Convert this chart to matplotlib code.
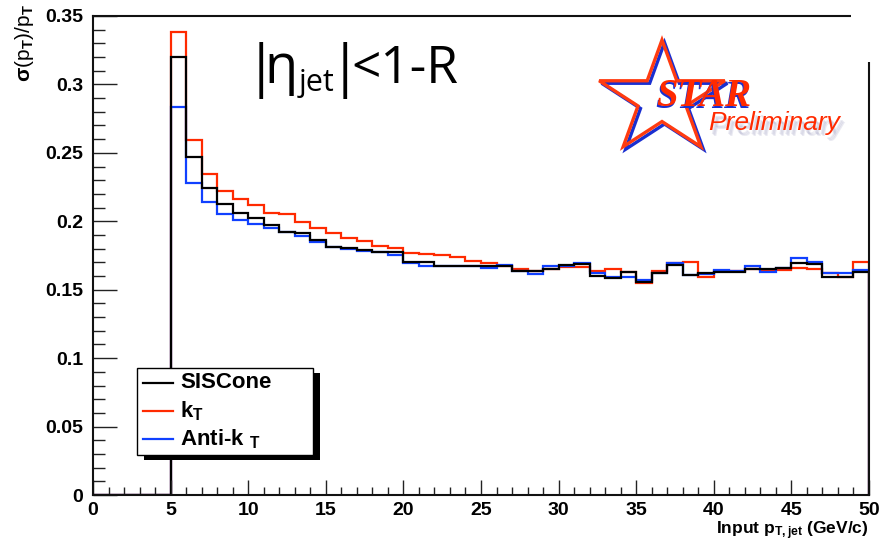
import matplotlib
matplotlib.use("Agg")
import matplotlib.pyplot as plt
import numpy as np
from matplotlib.patches import Polygon, Rectangle
from matplotlib.ticker import MultipleLocator, FuncFormatter


# 1 GeV/c bins from 0 to 50, first five bins are empty
PT_EDGES = list(range(0, 51))
SISCONE = [0, 0, 0, 0, 0,
           0.3203, 0.2472, 0.2241, 0.2126, 0.2058, 0.2022, 0.1973, 0.1924, 0.1912, 0.1863,
           0.1815, 0.1803, 0.1790, 0.1778, 0.1778, 0.1705, 0.1700, 0.1676, 0.1675, 0.1675,
           0.1670, 0.1675, 0.1639, 0.1639, 0.1651, 0.1681, 0.1686, 0.1602, 0.1583, 0.1627,
           0.1559, 0.1620, 0.1681, 0.1610, 0.1620, 0.1627, 0.1630, 0.1651, 0.1651, 0.1661,
           0.1693, 0.1688, 0.1591, 0.1595, 0.1627]
KT = [0, 0, 0, 0, 0,
      0.3385, 0.2594, 0.2345, 0.2223, 0.2163, 0.2119, 0.2063, 0.2053, 0.1997, 0.1949,
      0.1912, 0.1875, 0.1856, 0.1819, 0.1803, 0.1766, 0.1759, 0.1754, 0.1737, 0.1712,
      0.1693, 0.1673, 0.1649, 0.1639, 0.1651, 0.1664, 0.1664, 0.1639, 0.1649, 0.1627,
      0.1551, 0.1639, 0.1697, 0.1700, 0.1595, 0.1639, 0.1639, 0.1651, 0.1644, 0.1644,
      0.1656, 0.1651, 0.1622, 0.1595, 0.1700]
ANTI_KT = [0, 0, 0, 0, 0,
           0.2837, 0.2282, 0.2143, 0.2053, 0.2009, 0.1980, 0.1949, 0.1924, 0.1895, 0.1845,
           0.1815, 0.1800, 0.1780, 0.1775, 0.1754, 0.1693, 0.1676, 0.1676, 0.1670, 0.1670,
           0.1656, 0.1680, 0.1639, 0.1617, 0.1670, 0.1673, 0.1693, 0.1624, 0.1591, 0.1591,
           0.1570, 0.1620, 0.1697, 0.1610, 0.1615, 0.1644, 0.1639, 0.1670, 0.1627, 0.1656,
           0.1729, 0.1700, 0.1620, 0.1620, 0.1644]

SERIES = (
    ("SISCone", SISCONE, "#000000"),
    ("k$_{\\mathbf{T}}$", KT, "#ff2a00"),
    ("Anti-k $_{\\mathbf{T}}$", ANTI_KT, "#1040ff"),
)
DRAW_ORDER = (1, 2, 0)

W, H = 881, 546

plt.rcParams["font.family"] = ["Liberation Sans", "DejaVu Sans"]
plt.rcParams["font.weight"] = "bold"
plt.rcParams["mathtext.fontset"] = "custom"
plt.rcParams["mathtext.rm"] = "Liberation Sans"
plt.rcParams["mathtext.it"] = "Liberation Sans:italic"
plt.rcParams["mathtext.bf"] = "Liberation Sans:bold"

fig = plt.figure(figsize=(W / 100, H / 100), dpi=100)
ax = fig.add_axes([93 / W, 1 - 495 / H, (869 - 93) / W, (495 - 16) / H])

for idx in DRAW_ORDER:
    label, values, color = SERIES[idx]
    ax.stairs(values, PT_EDGES, color=color, linewidth=1.6, baseline=0)

ax.set_xlim(0, 50)
ax.set_ylim(0, 0.35)
ax.xaxis.set_major_locator(MultipleLocator(5))
ax.xaxis.set_minor_locator(MultipleLocator(1))
ax.yaxis.set_major_locator(MultipleLocator(0.05))
ax.yaxis.set_minor_locator(MultipleLocator(0.01))
ax.yaxis.set_major_formatter(FuncFormatter(lambda v, p: f"{v:g}"))
ax.tick_params(axis="both", which="both", direction="in", width=1.0, colors="#222222",
               labelcolor="black", labelsize=14)
ax.tick_params(axis="y", which="major", length=17, pad=7)
ax.tick_params(axis="y", which="minor", length=8.5)
ax.tick_params(axis="x", which="major", length=11, pad=5)
ax.tick_params(axis="x", which="minor", length=5.5)
for spine in ax.spines.values():
    spine.set_linewidth(1.5)
    spine.set_color("#111111")

fig.text(869 / W, 1 - 531 / H, "Input p$_{\\mathbf{T,jet}}$ (GeV/c)", ha="right", va="center",
         fontsize=12.5, fontweight="bold")
fig.text(24 / W, 1 - 4 / H, "$\\mathrm{σ}$(p$_{\\mathrm{T}}$)/p$_{\\mathrm{T}}$", rotation=90,
         ha="center", va="top", fontsize=15, fontweight="normal")

# legend box with ROOT-style shadow
lx0, lx1, ly0, ly1 = 137, 313, 368, 455
fig.patches.append(Rectangle(((lx0 + 7) / W, 1 - (ly1 + 5) / H), (lx1 - lx0) / W, (ly1 - ly0) / H,
                             transform=fig.transFigure, facecolor="black", edgecolor="none", zorder=2))
fig.patches.append(Rectangle((lx0 / W, 1 - ly1 / H), (lx1 - lx0) / W, (ly1 - ly0) / H,
                             transform=fig.transFigure, facecolor="white", edgecolor="black",
                             linewidth=1.0, zorder=3))
for row, (label, values, color) in zip((383, 411, 439), SERIES):
    fig.lines.append(plt.Line2D([143 / W, 173 / W], [1 - row / H] * 2, transform=fig.transFigure,
                                color=color, linewidth=1.6, zorder=4))
    fig.text(180 / W, 1 - row / H, label, ha="left", va="center", fontsize=16,
             fontweight="bold", zorder=5)

# overlay in pixel coordinates for the eta label and the logo
over = fig.add_axes([0, 0, 1, 1], zorder=10)
over.set_xlim(0, W)
over.set_ylim(H, 0)
over.axis("off")
over.patch.set_alpha(0)

eta_font = dict(family=["Open Sans", "DejaVu Sans"], fontweight="normal", va="baseline")
over.text(261, 85, "|", ha="center", fontsize=40, **eta_font)
over.text(264, 83, "η", ha="left", fontsize=39, **eta_font)
over.text(299, 91, "jet", ha="left", fontsize=22, **eta_font)
over.text(345, 85, "|", ha="center", fontsize=40, **eta_font)
over.text(351, 83, "<1-R", ha="left", fontsize=37, **eta_font)

# STAR Preliminary logo
over.add_patch(Rectangle((851, 8), 25, 54, facecolor="white", edgecolor="none"))
cx, cy, r_out = 662, 99, 59
ang = np.deg2rad(90 + 36 * np.arange(10))
rad = np.where(np.arange(10) % 2 == 0, r_out, r_out * 0.382)
star = np.column_stack([cx + 1.12 * rad * np.cos(ang), cy - rad * np.sin(ang)])
over.add_patch(Polygon(star + [2.5, 2.5], closed=True, fill=False, edgecolor="#1a2fd0",
                       linewidth=2.4, joinstyle="miter"))
over.add_patch(Polygon(star, closed=True, fill=False, edgecolor="#ff3b10", linewidth=2.4,
                       joinstyle="miter"))
for dx, dy, col in ((-1.5, 2.0, "#1a2fd0"), (0, 0, "#ff2a00")):
    over.text(704 + dx, 106 + dy, "STAR", ha="center", va="baseline", fontsize=28,
              fontweight="bold", style="italic", family=["Liberation Serif"], color=col)
for dx, dy in ((2, 4), (4, 6), (3, 5)):
    over.text(708 + dx, 130 + dy, "Preliminary", ha="left", va="baseline", fontsize=19,
              style="italic", fontweight="normal", color="#9090b8", alpha=0.18)
over.text(708, 130, "Preliminary", ha="left", va="baseline", fontsize=19, style="italic",
          fontweight="normal", color="#ff2a00")

fig.savefig("out.png", dpi=100)
